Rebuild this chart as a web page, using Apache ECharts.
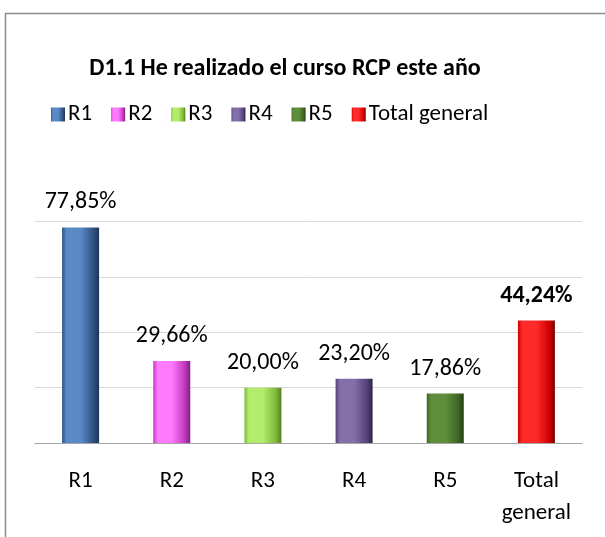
<!DOCTYPE html>
<html>
<head>
<meta charset="utf-8">
<script src="https://cdn.jsdelivr.net/npm/echarts@6/dist/echarts.min.js"></script>
<style>
  html, body { margin: 0; padding: 0; background: #fff; }
  #chart { width: 605px; height: 537px; }
</style>
</head>
<body>
<div id="chart"></div>
<script>
var categories = ['R1', 'R2', 'R3', 'R4', 'R5', 'Total general'];
var values = [77.85, 29.66, 20.00, 23.20, 17.86, 44.24];
var barColors = [
    ['#2f5282', '#5a8ac6', '#1e3554'],
    ['#c238c0', '#ff7aff', '#7e2180'],
    ['#7fb83a', '#b4ec6c', '#52801f'],
    ['#55427a', '#8470a8', '#2e2346'],
    ['#3f6624', '#5f8f3c', '#243d13'],
    ['#d00000', '#ff2a2a', '#7a0000']
];
var fontFam = 'Carlito, Lato, "Open Sans", sans-serif';

var chartDom = document.getElementById('chart');
var myChart = echarts.init(chartDom);

function grad(c) {
    return new echarts.graphic.LinearGradient(0, 0, 1, 0, [
        { offset: 0, color: c[0] },
        { offset: 0.12, color: c[1] },
        { offset: 0.5, color: c[1] },
        { offset: 0.85, color: c[0] },
        { offset: 1, color: c[2] }
    ]);
}

var series = categories.map(function (name, i) {
    var data = categories.map(function (c, j) { return j === i ? values[j] : '-'; });
    return {
        name: name,
        type: 'bar',
        stack: 'all',
        barWidth: 37,
        data: data,
        itemStyle: { color: grad(barColors[i]) },
        label: {
            show: true,
            position: 'top',
            distance: 13,
            fontFamily: fontFam,
            fontSize: 24,
            color: '#000',
            fontWeight: i === 5 ? 'bold' : 'normal',
            formatter: function (p) {
                return p.value.toFixed(2).replace('.', ',') + '%';
            }
        }
    };
});

var option = {
    animation: false,
    graphic: [{
        type: 'rect',
        shape: { x: 5.5, y: 13.5, width: 800, height: 800 },
        style: { fill: 'none', stroke: '#8c8c8c', lineWidth: 1.5 }
    }],
    title: {
        text: 'D1.1 He realizado el curso RCP este año',
        left: 280,
        textAlign: 'center',
        top: 52,
        textStyle: { fontFamily: fontFam, fontSize: 24, fontWeight: 'bold', color: '#000' }
    },
    legend: {
        top: 98,
        left: 46,
        itemWidth: 14,
        itemHeight: 14,
        itemGap: 19,
        icon: 'rect',
        textStyle: { fontFamily: fontFam, fontSize: 23, color: '#000', padding: [0, 0, 0, -2] },
        data: categories
    },
    grid: { left: 35, right: 23, top: 221.5, bottom: 94 },
    xAxis: {
        type: 'category',
        data: categories,
        axisLine: { lineStyle: { color: '#a6a6a6' } },
        axisTick: { length: 7, lineStyle: { color: '#a6a6a6' } },
        axisLabel: {
            fontFamily: fontFam,
            fontSize: 23,
            color: '#000',
            margin: 22,
            lineHeight: 32,
            interval: 0,
            formatter: function (v) { return v.replace(' ', '\n'); }
        }
    },
    yAxis: {
        type: 'value',
        min: 0,
        max: 80,
        interval: 20,
        axisLabel: { show: false },
        axisLine: { show: false },
        axisTick: { show: false },
        splitLine: { lineStyle: { color: '#d9d9d9' } }
    },
    series: series
};

myChart.setOption(option);
</script>
</body>
</html>
